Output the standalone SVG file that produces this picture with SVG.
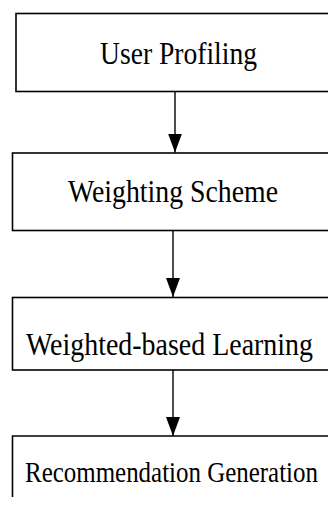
<svg xmlns="http://www.w3.org/2000/svg" width="328" height="505" viewBox="0 0 328 505">
<style>
.box{fill:#fff;stroke:#000;stroke-width:1.6}
.lbl{font-family:"Liberation Serif","Times New Roman",serif;fill:#000}
.conn{stroke:#000;stroke-width:1.4;fill:none}
</style>
<defs>
<marker id="ah" viewBox="0 0 19 14" refX="19" refY="7" markerWidth="19" markerHeight="14" markerUnits="userSpaceOnUse" orient="auto">
<path d="M0,0 L19,7 L0,14 Z" fill="#000"/>
</marker>
</defs>
<rect width="328" height="505" fill="#fff"/>
<g id="node-user-profiling">
<rect class="box" x="16" y="13.5" width="320" height="78"/>
<text class="lbl" x="100" y="63.5" font-size="32" textLength="157" lengthAdjust="spacingAndGlyphs">User Profiling</text>
</g>
<g id="node-weighting-scheme">
<rect class="box" x="12.5" y="153" width="325" height="77.5"/>
<text class="lbl" x="68" y="202" font-size="31" textLength="210" lengthAdjust="spacingAndGlyphs">Weighting Scheme</text>
</g>
<g id="node-weighted-learning">
<rect class="box" x="12.5" y="297.5" width="325" height="72.5"/>
<text class="lbl" x="26" y="354.5" font-size="31" textLength="287" lengthAdjust="spacingAndGlyphs">Weighted-based Learning</text>
</g>
<g id="node-recommendation">
<path class="box" d="M335,436 H12.5 V497" fill="none"/>
<text class="lbl" x="25" y="482" font-size="29" textLength="293" lengthAdjust="spacingAndGlyphs">Recommendation Generation</text>
</g>
<g id="connectors">
<path class="conn" d="M175,91.5 V152.5" marker-end="url(#ah)"/>
<path class="conn" d="M173,230.5 V297" marker-end="url(#ah)"/>
<path class="conn" d="M173,370 V436" marker-end="url(#ah)"/>
</g>
</svg>
